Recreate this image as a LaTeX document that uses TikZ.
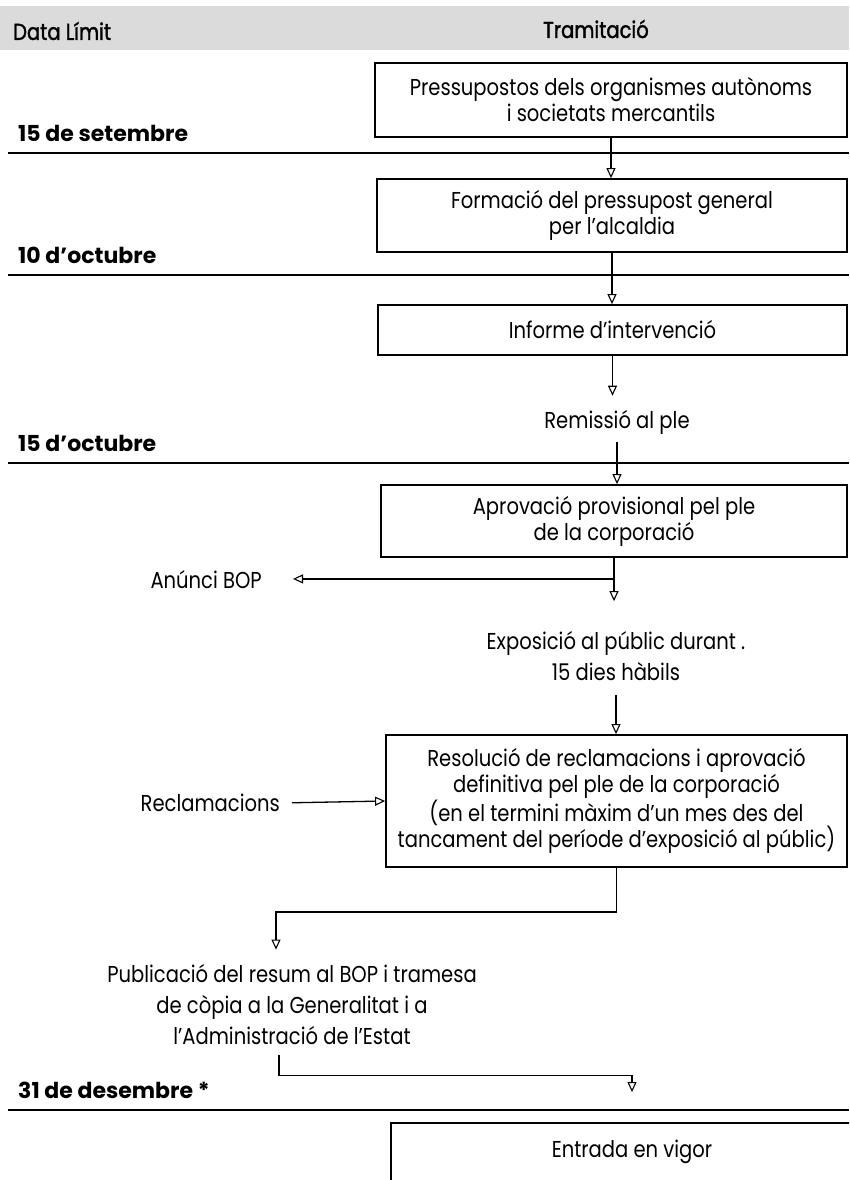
\documentclass[tikz,border=0pt]{standalone}
\usepackage{fontspec}
\setmainfont{Poppins}[FakeStretch=0.85]
\newfontfamily\datefont{Poppins}
\newfontfamily\hdrfont{Poppins}[FakeStretch=0.85, FakeBold=1.6]
\usetikzlibrary{arrows.meta, positioning}

\begin{document}
\begin{tikzpicture}[
  x=1pt, y=-1pt,
  hdr/.style = {font=\hdrfont\fontsize{23}{26}\selectfont, inner sep=0pt},
  box/.style = {draw, line width=1.8pt, align=center, inner sep=0pt, font=\fontsize{23}{26}\selectfont},
  txt/.style = {align=center, inner sep=0pt, font=\fontsize{23}{31}\selectfont},
  datelbl/.style = {anchor=west, inner sep=0pt, font=\datefont\bfseries\fontsize{22}{26}\selectfont},
  rule/.style = {line width=1.8pt},
  flow/.style = {line width=1.3pt, -{Triangle[open, length=10pt, width=9pt, line width=1.1pt]}}
]
  \useasboundingbox (0,0) rectangle (849,1180);
  \clip (0,0) rectangle (849,1180);

  % header band
  \fill[gray!28] (0,6) rectangle (849,50);
  \node[hdr, anchor=west] (hdate) at (13,31) {Data Límit};
  \node[hdr] (htram) at (596,29) {Tramitació};

  % deadlines and their rules
  \foreach \y/\d [count=\i] in {153/{15 de setembre}, 275/{10 d’octubre}, 463/{15 d’octubre}, 1110/{31 de desembre *}}{
    \draw[rule] (8,\y) -- (849,\y);
    \node[datelbl] (date\i) at (18,\y-20) {\d};
  }

  % steps
  \node[box, minimum width=472, minimum height=74] (pressup) at (611,100)
    {Pressupostos dels organismes autònoms\\i societats mercantils};
  \node[box, minimum width=470, minimum height=73] (formacio) at (612,215.5)
    {Formació del pressupost general\\per l’alcaldia};
  \node[box, minimum width=469, minimum height=50] (informe) at (612.5,330)
    {Informe d’intervenció};
  \node[txt] (remissio) at (617,422) {Remissió al ple};
  \node[box, minimum width=466, minimum height=72] (aprov) at (614,521)
    {Aprovació provisional pel ple\\de la corporació};
  \node[txt, anchor=east] (anunci) at (262,580) {Anúnci BOP};
  \node[txt] (expo) at (616,656) {Exposició al públic durant .\\15 dies hàbils};
  \node[box, minimum width=461, minimum height=132] (resol) at (616.5,801)
    {Resolució de reclamacions i aprovació\\definitiva pel ple de la corporació\\(en el termini màxim d’un mes des del\\tancament del període d’exposició al públic)};
  \node[txt, anchor=east] (reclam) at (280,803) {Reclamacions};
  \node[txt] (public) at (292,1005)
    {Publicació del resum al BOP i tramesa\\de còpia a la Generalitat i a\\l’Administració de l’Estat};
  \node[box, minimum width=482, minimum height=58] (entrada) at (632,1152) {Entrada en vigor};

  % flow
  \coordinate (split) at ([yshift=-21pt]aprov.south);
  \draw[flow] (pressup.south) -- (pressup.south |- formacio.north);
  \draw[flow] (formacio.south) -- (formacio.south |- informe.north);
  \draw[flow, shorten >=14pt] (informe.south) -- (informe.south |- remissio.north);
  \draw[flow, shorten <=8pt] (remissio.south) -- (remissio.south |- aprov.north);
  \draw[flow, shorten >=30pt] (aprov.south) -- (aprov.south |- expo.north);
  \draw[flow, shorten >=31pt] (split) -- (split -| anunci.east);
  \draw[flow, shorten <=14pt] (expo.south) -- (expo.south |- resol.north);
  \draw[flow, shorten <=12pt] (reclam.east) -- (resol.west);
  \draw[flow, shorten >=15pt] (resol.south) -- ++(0,44) -| ([xshift=-16pt]public.north);
  \draw[flow, shorten <=10pt, shorten >=30pt] ([xshift=-13pt]public.south) -- ++(0,30) -| (entrada.north);
\end{tikzpicture}
\end{document}
